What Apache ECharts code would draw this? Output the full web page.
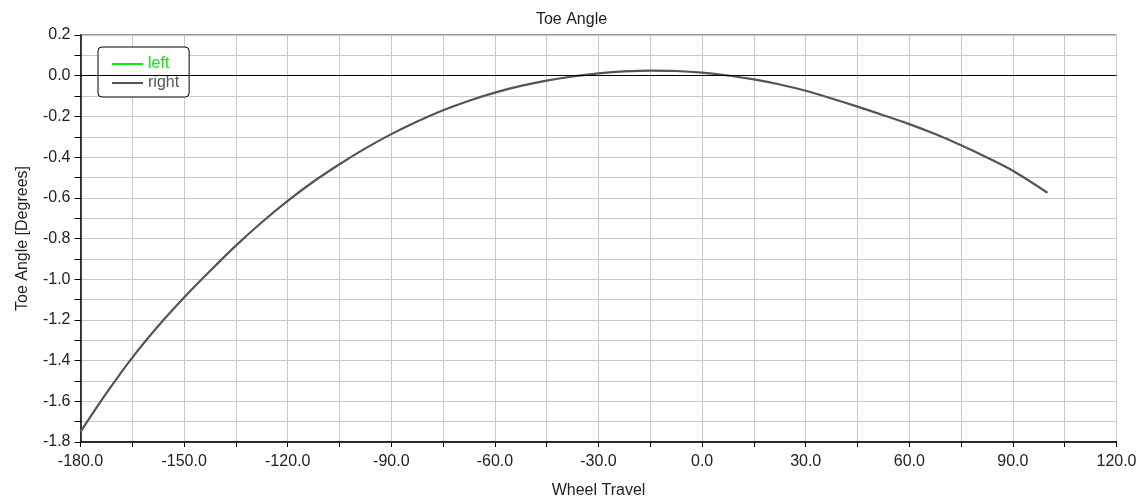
<!DOCTYPE html>
<html><head><meta charset="utf-8">
<script src="https://cdn.jsdelivr.net/npm/echarts@6/dist/echarts.min.js"></script>
<style>html,body{margin:0;padding:0;background:#fff}#c{width:1143px;height:498px}</style>
</head><body><div id="c"></div>
<script>
const wheelTravel = [-180,-172.5,-165,-157.5,-150,-142.5,-135,-127.5,-120,-112.5,-105,-97.5,-90,-82.5,-75,-67.5,-60,-52.5,-45,-37.5,-30,-22.5,-15,-7.5,0,7.5,15,22.5,30,37.5,45,52.5,60,67.5,75,82.5,90,100];
const rightToe = [-1.75,-1.56,-1.385,-1.23,-1.09,-0.96,-0.835,-0.72,-0.615,-0.52,-0.435,-0.357,-0.287,-0.225,-0.17,-0.123,-0.083,-0.05,-0.024,-0.004,0.011,0.021,0.025,0.023,0.015,0.001,-0.018,-0.043,-0.074,-0.112,-0.152,-0.194,-0.238,-0.287,-0.342,-0.402,-0.467,-0.575];
const leftToe = rightToe.slice();
const xTicks = [-180,-150,-120,-90,-60,-30,0,30,60,90,120];
const yTicks = [-1.8,-1.6,-1.4,-1.2,-1.0,-0.8,-0.6,-0.4,-0.2,0.0,0.2];

const pair = (xs, ys) => xs.map((x,i)=>[x, ys[i]]);
const font = 'Liberation Sans, Arial, sans-serif';
const chart = echarts.init(document.getElementById('c'));
chart.setOption({
  animation:false,
  title:{text:'Toe Angle',left:'center',top:7,textStyle:{fontFamily:font,fontSize:16,fontWeight:'normal',color:'#222'}},
  grid:{left:80.5,right:26.5,top:35,bottom:56,containLabel:false,outerBoundsMode:'none',show:true,borderColor:'#333',borderWidth:1,backgroundColor:'#fff'},
  legend:{left:98,top:47,orient:'vertical',itemWidth:31,itemHeight:2,itemGap:3,
    padding:[9,10,6,14],borderColor:'#000',borderWidth:1,borderRadius:4,backgroundColor:'#fff',
    data:[{name:'left',textStyle:{color:'#00ee00'},itemStyle:{color:'#00ee00'}},{name:'right',textStyle:{color:'#555'},itemStyle:{color:'#555'}}],
    textStyle:{fontFamily:font,fontSize:16}, icon:'rect'},
  xAxis:{type:'value',min:-180,max:120,interval:15,name:'Wheel Travel',nameLocation:'middle',nameGap:41,
    nameTextStyle:{fontFamily:font,fontSize:16,color:'#222'},
    axisLine:{onZero:false,lineStyle:{color:'#000',width:1.5}},axisTick:{show:true,length:5,lineStyle:{color:'#000'}},
    axisLabel:{fontFamily:font,fontSize:16,color:'#222',margin:12,
      formatter:v=>xTicks.includes(v)?v.toFixed(1):''},
    splitLine:{lineStyle:{color:'#c8c8c8',width:1}}},
  yAxis:{type:'value',min:-1.8,max:0.2,interval:0.1,name:'Toe Angle [Degrees]',nameLocation:'middle',nameGap:50,
    nameTextStyle:{fontFamily:font,fontSize:16,color:'#222'},
    axisLine:{show:true,onZero:false,lineStyle:{color:'#000',width:1.5}},axisTick:{show:true,length:6,lineStyle:{color:'#000'}},
    axisLabel:{fontFamily:font,fontSize:16,color:'#222',margin:10,
      formatter:v=>{const r=Math.round(v*10)/10;return yTicks.some(t=>Math.abs(t-r)<1e-6)?r.toFixed(1):'';}},
    splitLine:{lineStyle:{color:'#c8c8c8',width:1}}},
  series:[
    {name:'left',type:'line',data:pair(wheelTravel,leftToe),showSymbol:false,smooth:0.3,
      lineStyle:{color:'#00ee00',width:0.8},itemStyle:{color:'#00ee00'},
      markLine:{silent:true,symbol:'none',label:{show:false},lineStyle:{color:'#000',width:1,type:'solid'},data:[{yAxis:0}]}},
    {name:'right',type:'line',data:pair(wheelTravel,rightToe),showSymbol:false,smooth:0.3,
      lineStyle:{color:'#555',width:2.2},itemStyle:{color:'#555'}}
  ]
});
</script></body></html>
